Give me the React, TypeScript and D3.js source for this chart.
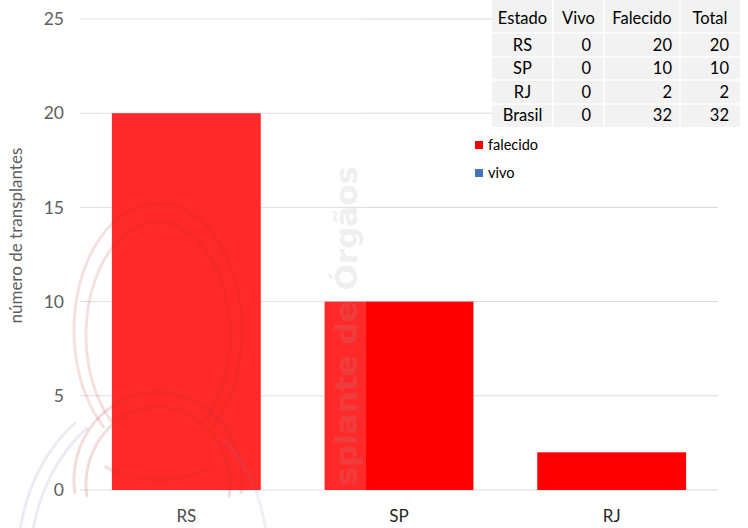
import React from "react";
import * as d3 from "d3";

const categories = ["RS", "SP", "RJ"];
const vivo = [0, 0, 0];
const falecido = [20, 10, 2];
const yTicks = [0, 5, 10, 15, 20, 25];
const tableHeader = ["Estado", "Vivo", "Falecido", "Total"];
const tableStates = ["RS", "SP", "RJ", "Brasil"];
const tableVivo = [0, 0, 0, 0];
const tableFalecido = [20, 10, 2, 32];
const tableTotal = [20, 10, 2, 32];
const legendLabels = ["falecido", "vivo"];
const yTitle = "número de transplantes";
const watermarkText = "splante de Órgãos";

const W = 748, H = 528;
const FONT = "Lato, 'Open Sans', sans-serif";

export default function App() {
  const x = d3.scaleBand<string>().domain(categories).range([80, 718]).paddingInner(0.3).paddingOuter(0.15);
  const y = d3.scaleLinear().domain([0, 25]).range([490, 19]);
  const rows = categories.map((c, i) => ({ cat: c, vivo: vivo[i], falecido: falecido[i] }));
  const stack = d3.stack<any>().keys(["vivo", "falecido"])(rows);
  const colors: Record<string, string> = { vivo: "#4472c4", falecido: "#ff0000" };

  const colX = [492, 553, 604, 680, 740];
  const rowY = [0, 33, 57, 80, 104, 127];

  const arc = (cx: number, cy: number, rx: number, ry: number, a0: number, a1: number) => {
    const p = d3.path();
    const n = 60;
    for (let k = 0; k <= n; k++) {
      const a = a0 + (a1 - a0) * (k / n);
      const px = cx + rx * Math.cos(a), py = cy + ry * Math.sin(a);
      if (k === 0) p.moveTo(px, py); else p.lineTo(px, py);
    }
    return p.toString();
  };

  return (
    <svg width={W} height={H} style={{ position: "absolute", left: 0, top: 0, background: "#fff" }}>
      {/* gridlines */}
      {yTicks.map(t => (
        <line key={t} x1={80} x2={718} y1={y(t)} y2={y(t)} stroke="#d9d9d9" strokeWidth={1} />
      ))}
      {yTicks.map(t => (
        <text key={"l" + t} x={64} y={y(t)} dy="0.35em" textAnchor="end" fontFamily={FONT} fontSize={17.5} fill="#404040">{t}</text>
      ))}
      <text transform={`translate(16,${y(13.5)}) rotate(-90)`} textAnchor="middle" fontFamily={FONT} fontSize={17} fill="#404040" dy="0.35em">{yTitle}</text>

      {/* bars */}
      {stack.map(s => (
        <g key={s.key} fill={colors[s.key]}>
          {s.map((d, i) => (
            <rect key={i} x={x(categories[i])} width={x.bandwidth()} y={y(d[1])} height={Math.max(0, y(d[0]) - y(d[1]))} />
          ))}
        </g>
      ))}

      {categories.map(c => (
        <text key={c} x={(x(c) as number) + x.bandwidth() / 2} y={522} textAnchor="middle" fontFamily={FONT} fontSize={17} fill="#262626">{c}</text>
      ))}

      {/* watermark */}
      <g>
        <path d={arc(158, 330, 84, 127, Math.PI * 0.72, Math.PI * 2.28)} fill="none" stroke="#b00000" strokeOpacity={0.14} strokeWidth={3} />
        <path d={arc(158, 335, 72, 113, Math.PI * 0.72, Math.PI * 2.28)} fill="none" stroke="#b00000" strokeOpacity={0.14} strokeWidth={3} />
        <path d={arc(158, 480, 84, 88, Math.PI * 0.95, Math.PI * 2.05)} fill="none" stroke="#b00000" strokeOpacity={0.16} strokeWidth={3} />
        <path d={arc(158, 485, 72, 78, Math.PI * 0.95, Math.PI * 2.05)} fill="none" stroke="#b00000" strokeOpacity={0.16} strokeWidth={3} />
        <path d={arc(158, 420, 84, 60, Math.PI * 0.28, Math.PI * 0.72)} fill="none" stroke="#b00000" strokeOpacity={0.14} strokeWidth={3} />
        <path d={arc(158, 560, 140, 170, Math.PI * 1.05, Math.PI * 1.3)} fill="none" stroke="#5a6aa8" strokeOpacity={0.15} strokeWidth={3} />
        <path d={arc(170, 565, 140, 170, Math.PI * 1.05, Math.PI * 1.3)} fill="none" stroke="#5a6aa8" strokeOpacity={0.15} strokeWidth={3} />
        <path d={arc(158, 560, 110, 150, Math.PI * 1.7, Math.PI * 1.98)} fill="none" stroke="#5a6aa8" strokeOpacity={0.12} strokeWidth={3} />
        <rect x={0} y={0} width={366} height={H} fill="#fff" opacity={0.16} />
        <text transform="translate(346,166) rotate(-90)" textAnchor="end" dy="0.35em" fontFamily="'DejaVu Sans', sans-serif" fontWeight="bold" fontSize={31} fill="#a0a0a0" opacity={0.16}>{watermarkText}</text>
      </g>

      {/* table */}
      <rect x={colX[0]} y={rowY[0]} width={colX[4] - colX[0]} height={rowY[5] - rowY[0]} fill="#f2f2f2" />
      {colX.slice(1, 4).map((cx, i) => (
        <line key={"c" + i} x1={cx} x2={cx} y1={0} y2={127} stroke="#fff" strokeWidth={1.5} />
      ))}
      {rowY.slice(1, 5).map((ry, i) => (
        <line key={"r" + i} x1={colX[0]} x2={colX[4]} y1={ry} y2={ry} stroke="#fff" strokeWidth={1.5} />
      ))}
      {tableHeader.map((h, i) => (
        <text key={h} x={(colX[i] + colX[i + 1]) / 2} y={(rowY[0] + rowY[1]) / 2 + 2} dy="0.35em" textAnchor="middle" fontFamily={FONT} fontSize={16.5} fill="#000">{h}</text>
      ))}
      {tableStates.map((s, r) => {
        const cy = (rowY[r + 1] + rowY[r + 2]) / 2;
        return (
          <g key={s} fontFamily={FONT} fontSize={16.5} fill="#000">
            <text x={(colX[0] + colX[1]) / 2} y={cy} dy="0.35em" textAnchor="middle">{s}</text>
            <text x={591} y={cy} dy="0.35em" textAnchor="end">{tableVivo[r]}</text>
            <text x={672} y={cy} dy="0.35em" textAnchor="end">{tableFalecido[r]}</text>
            <text x={729} y={cy} dy="0.35em" textAnchor="end">{tableTotal[r]}</text>
          </g>
        );
      })}

      {/* legend */}
      {legendLabels.map((l, i) => (
        <g key={l} transform={`translate(475,${141 + i * 28})`}>
          <rect width={8} height={8} fill={colors[l]} />
          <text x={13} y={4} dy="0.35em" fontFamily={FONT} fontSize={14.5} fill="#000">{l}</text>
        </g>
      ))}
    </svg>
  );
}
